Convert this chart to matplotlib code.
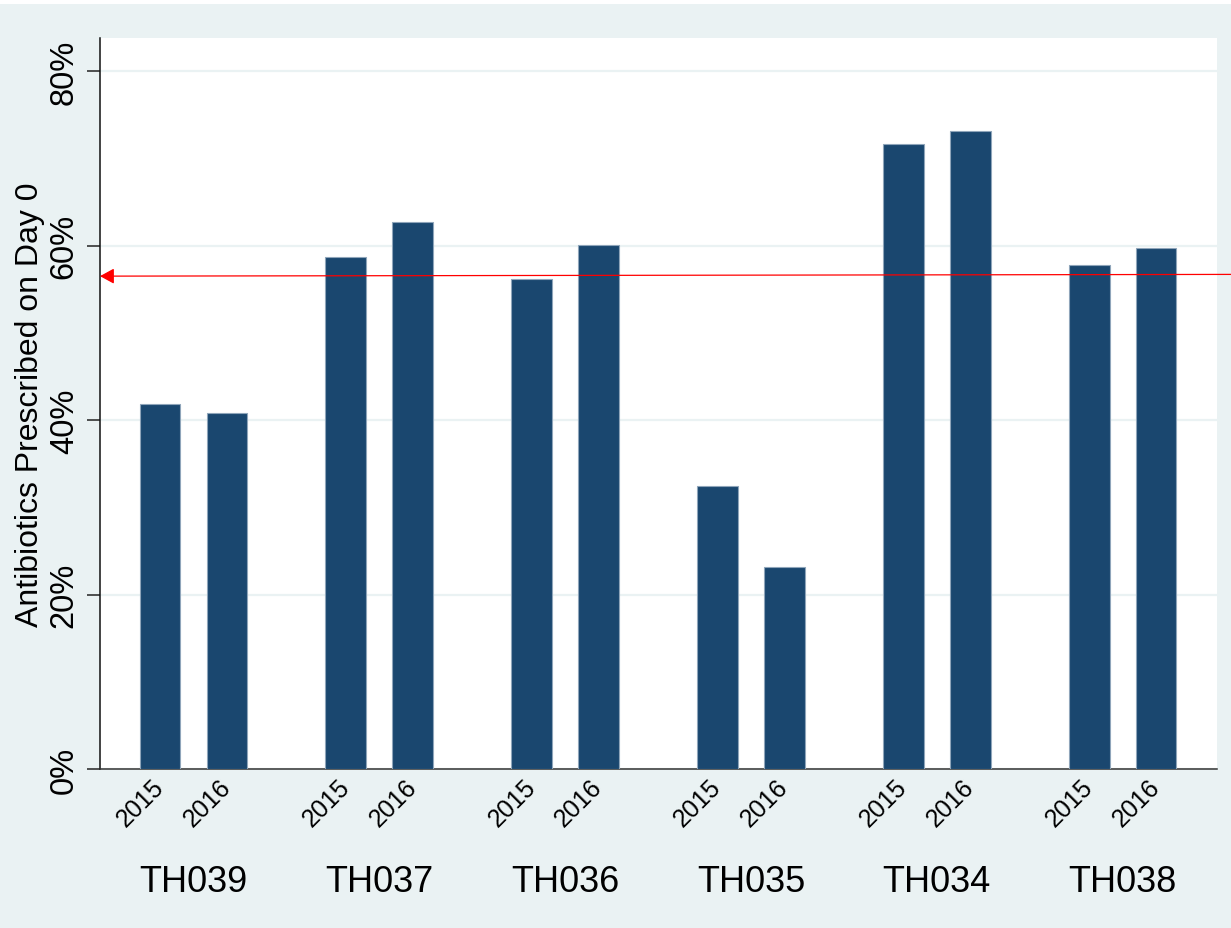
import matplotlib.pyplot as plt
import matplotlib.transforms as mtransforms
from matplotlib.patches import Rectangle

plt.rcParams['font.family'] = ['Liberation Sans', 'DejaVu Sans']

# data
sites = ['TH039', 'TH037', 'TH036', 'TH035', 'TH034', 'TH038']
years = ['2015', '2016']
pct_2015 = [41.8, 58.7, 56.2, 32.4, 71.7, 57.8]
pct_2016 = [40.8, 62.7, 60.1, 23.2, 73.1, 59.7]
ref_left = 56.5   # red reference arrow, value at left axis
ref_right = 56.7  # value at right edge

bg = '#EAF2F3'
navy = '#1A476F'
gap = 2.775
width = 0.61

fig = plt.figure(figsize=(12.31, 9.29), dpi=100, facecolor=bg)
fig.patches.append(Rectangle((0, 1 - 5 / 929), 1, 5 / 929, transform=fig.transFigure,
                             facecolor='white', edgecolor='none', zorder=-1))
ax = fig.add_axes([100 / 1231, 1 - 770 / 929, 1117 / 1231, 731 / 929])
ax.set_facecolor('white')

pos15 = [g * gap for g in range(len(sites))]
pos16 = [g * gap + 1 for g in range(len(sites))]
ax.bar(pos15, pct_2015, width=width, color=navy, edgecolor='#8FA5BA', linewidth=0.8, zorder=3)
ax.bar(pos16, pct_2016, width=width, color=navy, edgecolor='#8FA5BA', linewidth=0.8, zorder=3)

ax.set_ylim(0, 83.8)
ax.set_xlim(-0.896, 15.785)
ax.set_yticks([0, 20, 40, 60, 80])
ax.set_yticklabels(['0%', '20%', '40%', '60%', '80%'], rotation=90, va='center', fontsize=23.5)
ax.yaxis.grid(True, color=bg, linewidth=1.6, zorder=0)
ax.set_axisbelow(True)
ax.tick_params(axis='y', length=9.5, width=1.1, pad=5, color='#222222')

xt = []
xl = []
for a, b in zip(pos15, pos16):
    xt += [a, b]
    xl += years
ax.set_xticks(xt)
ax.set_xticklabels(xl, rotation=45, ha='right', va='center', rotation_mode='anchor', fontsize=18)
ax.tick_params(axis='x', length=0, pad=10)

trans = mtransforms.blended_transform_factory(ax.transData, ax.transAxes)
for a, s in zip(pos15, sites):
    ax.text(a + 0.5, -0.1669, s, transform=trans, ha='center', va='baseline', fontsize=26)

ax.set_ylabel('Antibiotics Prescribed on Day 0', fontsize=23)
ax.yaxis.set_label_coords(-0.0492, 0.5)

for side in ['top', 'right']:
    ax.spines[side].set_visible(False)
ax.spines['left'].set_linewidth(1.1)
ax.spines['left'].set_color('#111111')
ax.spines['bottom'].set_linewidth(1.1)
ax.spines['bottom'].set_color('#333333')

ax.annotate('', xy=(-0.896, ref_left), xytext=(16.05, ref_right), annotation_clip=False,
            arrowprops=dict(arrowstyle='-|>,head_length=8.6,head_width=4.7', mutation_scale=1,
                            color='#FF0000', linewidth=0.9, shrinkA=0, shrinkB=0),
            zorder=5)

plt.savefig('out.png', facecolor=bg)
